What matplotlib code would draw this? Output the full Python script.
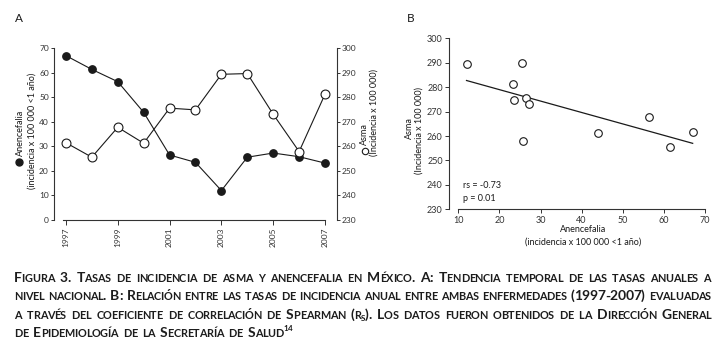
import re
import numpy as np
import matplotlib
matplotlib.use("Agg")
import matplotlib.pyplot as plt
from matplotlib.lines import Line2D

# ---------------- data ----------------
years = [1997, 1998, 1999, 2000, 2001, 2002, 2003, 2004, 2005, 2006, 2007]
anencefalia = [67.0, 61.4, 56.4, 43.9, 26.5, 23.5, 12.0, 25.6, 27.3, 25.8, 23.2]
asma = [261.5, 255.6, 267.8, 261.3, 275.6, 274.9, 289.4, 289.7, 273.1, 257.9, 281.3]
xticks_A = [1997, 1999, 2001, 2003, 2005, 2007]
yticks_A_left = [0, 10, 20, 30, 40, 50, 60, 70]
yticks_A_right = [230, 240, 250, 260, 270, 280, 290, 300]
xticks_B = [10, 20, 30, 40, 50, 60, 70]
yticks_B = [230, 240, 250, 260, 270, 280, 290, 300]
rs_label = "rs = -0.73"
p_label = "p = 0.01"

caption_lines = [
    "Figura 3. Tasas de incidencia de asma y anencefalia en México. A: Tendencia temporal de las tasas anuales a",
    "nivel nacional. B: Relación entre las tasas de incidencia anual entre ambas enfermedades (1997-2007) evaluadas",
    "a través del coeficiente de correlación de Spearman (r_{s}). Los datos fueron obtenidos de la Dirección General",
    "de Epidemiología de la Secretaría de Salud^{14}",
]

# ---------------- style ----------------
W, H = 726, 353
NARROW = ["Liberation Sans Narrow", "Lato", "DejaVu Sans"]
LABEL = ["Lato", "DejaVu Sans"]
INK = "#1a1a1a"
plt.rcParams["font.family"] = NARROW


def fx(x):
    return x / W


def fy(y):
    return 1 - y / H


fig = plt.figure(figsize=(7.26, 3.53), dpi=100)

# ---------------- panel A ----------------
axA = fig.add_axes([fx(54), fy(220), (336.7 - 54) / W, (220 - 48.3) / H])
axA.plot(years, anencefalia, "-o", color=INK, lw=0.8, ms=5.3, mfc=INK, mec=INK, zorder=3)
axA.set_xlim(1996.54, 2007.45)
axA.set_ylim(0, 70)
axA.set_xticks(xticks_A)
axA.set_yticks(yticks_A_left)
axA.spines["top"].set_visible(False)
axA.spines["right"].set_visible(False)
axA.spines["left"].set_bounds(0, 70)
axA.spines["bottom"].set_bounds(1996.87, 2007)
for s in ("left", "bottom"):
    axA.spines[s].set_linewidth(0.8)
    axA.spines[s].set_color("#333333")
axA.tick_params(axis="y", direction="out", length=2.5, width=0.7, pad=1.2, labelsize=6, colors="#333333")
axA.tick_params(axis="x", direction="out", length=3.6, width=0.7, pad=1.5, labelsize=6,
                labelrotation=90, colors="#333333")

axA2 = axA.twinx()
axA2.plot(years, asma, "-o", color=INK, lw=0.8, ms=6.4, mfc="white", mec=INK, mew=0.8, zorder=3)
axA2.set_ylim(230, 300)
axA2.set_yticks(yticks_A_right)
for s in ("top", "left", "bottom"):
    axA2.spines[s].set_visible(False)
axA2.spines["right"].set_bounds(230, 300)
axA2.spines["right"].set_linewidth(0.8)
axA2.spines["right"].set_color("#333333")
axA2.tick_params(axis="y", direction="out", length=2.5, width=0.7, pad=1.2, labelsize=6, colors="#333333")

# ---------------- panel B ----------------
axB = fig.add_axes([fx(449), fy(209.3), (705 - 449) / W, (209.3 - 38.3) / H])
coef = np.polyfit(anencefalia, asma, 1)
xfit = np.array([min(anencefalia), max(anencefalia)])
axB.plot(xfit, np.polyval(coef, xfit), color=INK, lw=0.9, zorder=2)
axB.scatter(anencefalia, asma, s=30, facecolor="white", edgecolor=INK, linewidth=0.8, zorder=3)
axB.set_xlim(7.74, 70)
axB.set_ylim(230, 300)
axB.set_xticks(xticks_B)
axB.set_yticks(yticks_B)
axB.spines["top"].set_visible(False)
axB.spines["right"].set_visible(False)
axB.spines["left"].set_bounds(230, 300)
axB.spines["bottom"].set_bounds(10, 70)
for s in ("left", "bottom"):
    axB.spines[s].set_linewidth(0.8)
    axB.spines[s].set_color("#333333")
axB.tick_params(axis="both", direction="out", length=3, width=0.7, pad=1.5, labelsize=6.5, colors="#333333")

# ---------------- labels ----------------
fig.text(fx(18.5), fy(19), "A", fontsize=8.5, family=LABEL, ha="center", va="center", color=INK)
fig.text(fx(410.5), fy(18), "B", fontsize=8.5, family=LABEL, ha="center", va="center", color=INK)

lk = dict(fontsize=6.5, family=LABEL, ha="center", va="center", color=INK)
fig.add_artist(Line2D([fx(18.5)], [fy(161.5)], marker="o", ms=5.0, mfc=INK, mec=INK,
                      transform=fig.transFigure))
fig.text(fx(20), fy(132.5), "Anencefalia", rotation=90, **lk)
fig.text(fx(31.7), fy(131), "(incidencia x 100 000 <1 año)", rotation=90, **lk)
fig.add_artist(Line2D([fx(364.5)], [fy(150.5)], marker="o", ms=4.6, mfc="white", mec=INK, mew=0.8,
                      transform=fig.transFigure))
fig.text(fx(364.5), fy(134), "Asma", rotation=90, **lk)
fig.text(fx(374), fy(113), "(Incidencia x 100 000)", rotation=90, **lk)
fig.text(fx(409.5), fy(128), "Asma", rotation=90, **lk)
fig.text(fx(419), fy(131), "(Incidencia x 100 000)", rotation=90, **lk)
fig.text(fx(583.5), fy(230), "Anencefalia", **lk)
fig.text(fx(583), fy(241.7), "(incidencia x 100 000 <1 año)", **lk)
fig.text(fx(462.7), fy(185.7), rs_label, fontsize=6.5, family=LABEL, ha="left", va="center", color=INK)
fig.text(fx(462.7), fy(199), p_label, fontsize=6.5, family=LABEL, ha="left", va="center", color=INK)

# ---------------- caption (small caps, justified, tracked) ----------------
CAP_FONT = ["Lato", "DejaVu Sans"]
CAP_COLOR = "#1c1c1c"
SCALE = {"cap": 1.0, "small": 0.78, "sub": 0.58, "sup": 0.58}
RISE = {"cap": 0.0, "small": 0.0, "sub": -0.16, "sup": 0.42}
X0, X1 = 14.0, 711.0
BASELINES = [282.0, 300.3, 318.6, 336.9]
FS = 10.0
EM = FS * 100 / 72
renderer = fig.canvas.get_renderer()


def make_chars(word):
    out = []
    for tok in re.split(r"(_\{[^}]*\}|\^\{[^}]*\})", word):
        if not tok:
            continue
        if tok.startswith("_{"):
            out += [(c.upper(), "sub") for c in tok[2:-1]]
            continue
        if tok.startswith("^{"):
            out += [(c.upper(), "sup") for c in tok[2:-1]]
            continue
        for ch in tok:
            if ch.islower():
                out.append((ch.upper(), "small"))
            else:
                out.append((ch, "cap"))
    return out


lines = []
for line in caption_lines:
    words = []
    for w in line.split():
        pieces = []
        for ch, kind in make_chars(w):
            t = fig.text(0, 0, ch, fontsize=FS * SCALE[kind], fontweight="bold",
                         family=CAP_FONT, color=CAP_COLOR, ha="left", va="baseline")
            pieces.append((t, kind, t.get_window_extent(renderer).width))
        words.append(pieces)
    lines.append(words)

normal_space = 0.30 * EM
T = X1 - X0
trs = []
for words in lines[:3]:
    S = sum(p[2] for pieces in words for p in pieces)
    C = sum(len(pieces) - 1 for pieces in words)
    trs.append((T - S - normal_space * (len(words) - 1)) / C)
tr = float(np.clip(min(trs), -0.02 * EM, 0.14 * EM))


def gap(prev_kind, kind):
    if kind == "sup" and prev_kind != "sup":
        return 0.3 * tr
    return tr


def word_w(pieces):
    w = pieces[0][2]
    for a, b in zip(pieces[:-1], pieces[1:]):
        w += gap(a[1], b[1]) + b[2]
    return w


spaces = []
for i, words in enumerate(lines):
    widths = [word_w(p) for p in words]
    if i < 3:
        sp = (T - sum(widths)) / (len(words) - 1)
        spaces.append(sp)
    else:
        sp = float(np.mean(spaces))
    x = X0
    for pieces in words:
        prev = None
        for t, kind, w in pieces:
            if prev is not None:
                x += gap(prev, kind)
            t.set_position((fx(x), fy(BASELINES[i] - RISE[kind] * EM)))
            x += w
            prev = kind
        x += sp

fig.savefig("out.png", dpi=100)
